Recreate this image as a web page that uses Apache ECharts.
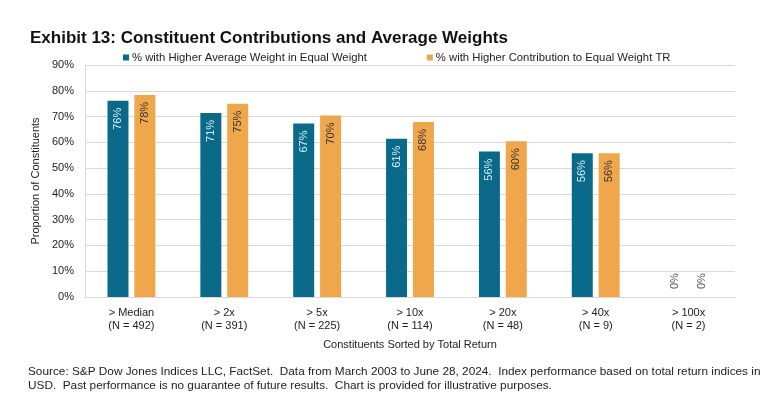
<!DOCTYPE html>
<html>
<head>
<meta charset="utf-8" />
<title>Exhibit 13</title>
<style type="text/css">
body, html {
	margin: 0;
	padding: 0;
	background: #fff;
}
#chart {
	width: 773px;
	height: 396px;
}
</style>
</head>
<body>
	<div id="chart"></div>
	<script src="https://cdn.jsdelivr.net/npm/echarts@6/dist/echarts.min.js"></script>
	<script>
		// categories and values read from the exhibit
		let categories = ['> Median\n(N = 492)', '> 2x\n(N = 391)', '> 5x\n(N = 225)', '> 10x\n(N = 114)', '> 20x\n(N = 48)', '> 40x\n(N = 9)', '> 100x\n(N = 2)'];
		let weightValues = [76.1, 71.4, 67.3, 61.4, 56.4, 55.8, 0];
		let contribValues = [78.4, 75.0, 70.4, 67.9, 60.4, 55.8, 0];
		let seriesNames = ['% with Higher Average Weight in Equal Weight', '% with Higher Contribution to Equal Weight TR'];

		let font = '"Liberation Sans", Arial, sans-serif';

		function toData(values) {
			return values.map(function(v) {
				if (v === 0) {
					// zero bars: label sits above the axis
					return {
						value: v,
						label: { position: 'insideBottom', align: 'left', color: '#555', distance: 8 }
					};
				}
				return v;
			});
		}

		let chart = echarts.init(document.getElementById('chart'));
		chart.setOption({
			animation: false,
			title: [{
				text: 'Exhibit 13: Constituent Contributions and Average Weights',
				left: 25,
				top: 25,
				textStyle: { fontFamily: font, fontSize: 17, fontWeight: 'bold', color: '#111' }
			}, {
				text: 'Source: S&P Dow Jones Indices LLC, FactSet.  Data from March 2003 to June 28, 2024.  Index performance based on total return indices in\nUSD.  Past performance is no guarantee of future results.  Chart is provided for illustrative purposes.',
				left: 23,
				top: 360,
				textStyle: { fontFamily: font, fontSize: 11.8, fontWeight: 'normal', color: '#222', lineHeight: 14 }
			}],
			legend: {
				top: 47,
				left: 118,
				itemWidth: 6,
				itemHeight: 6,
				itemGap: 60,
				icon: 'rect',
				textStyle: { fontFamily: font, fontSize: 11.3, color: '#222', padding: [0, 0, 0, -2] },
				data: seriesNames
			},
			grid: {
				left: 85,
				right: 38,
				top: 65,
				bottom: 99
			},
			xAxis: {
				type: 'category',
				data: categories,
				name: 'Constituents Sorted by Total Return',
				nameLocation: 'middle',
				nameGap: 42,
				nameTextStyle: { fontFamily: font, fontSize: 11, color: '#222' },
				axisLine: { lineStyle: { color: '#d9d9d9', width: 1 } },
				axisTick: { show: false },
				axisLabel: { fontFamily: font, fontSize: 11, color: '#222', lineHeight: 13, margin: 9 }
			},
			yAxis: {
				type: 'value',
				min: 0,
				max: 90,
				interval: 10,
				name: 'Proportion of Constituents',
				nameLocation: 'middle',
				nameGap: 42,
				nameTextStyle: { fontFamily: font, fontSize: 11, color: '#222' },
				axisLine: { show: true, lineStyle: { color: '#d9d9d9' } },
				axisTick: { show: false },
				axisLabel: { formatter: '{value}%', fontFamily: font, fontSize: 11, color: '#222', margin: 11 },
				splitLine: { lineStyle: { color: '#d9d9d9', width: 1 } }
			},
			series: [{
				name: seriesNames[0],
				type: 'bar',
				barWidth: 21,
				barGap: '28%',
				itemStyle: { color: '#0B6A8A' },
				label: {
					show: true,
					position: 'insideTop',
					rotate: 90,
					align: 'right',
					verticalAlign: 'middle',
					distance: 7,
					color: '#d7eef6',
					fontFamily: font,
					fontSize: 11,
					formatter: function(p) { return Math.round(p.value) + '%'; }
				},
				data: toData(weightValues)
			}, {
				name: seriesNames[1],
				type: 'bar',
				barWidth: 21,
				itemStyle: { color: '#F0A64A' },
				label: {
					show: true,
					position: 'insideTop',
					rotate: 90,
					align: 'right',
					verticalAlign: 'middle',
					distance: 7,
					color: '#333',
					fontFamily: font,
					fontSize: 11,
					formatter: function(p) { return Math.round(p.value) + '%'; }
				},
				data: toData(contribValues)
			}]
		});
	</script>
</body>
</html>
